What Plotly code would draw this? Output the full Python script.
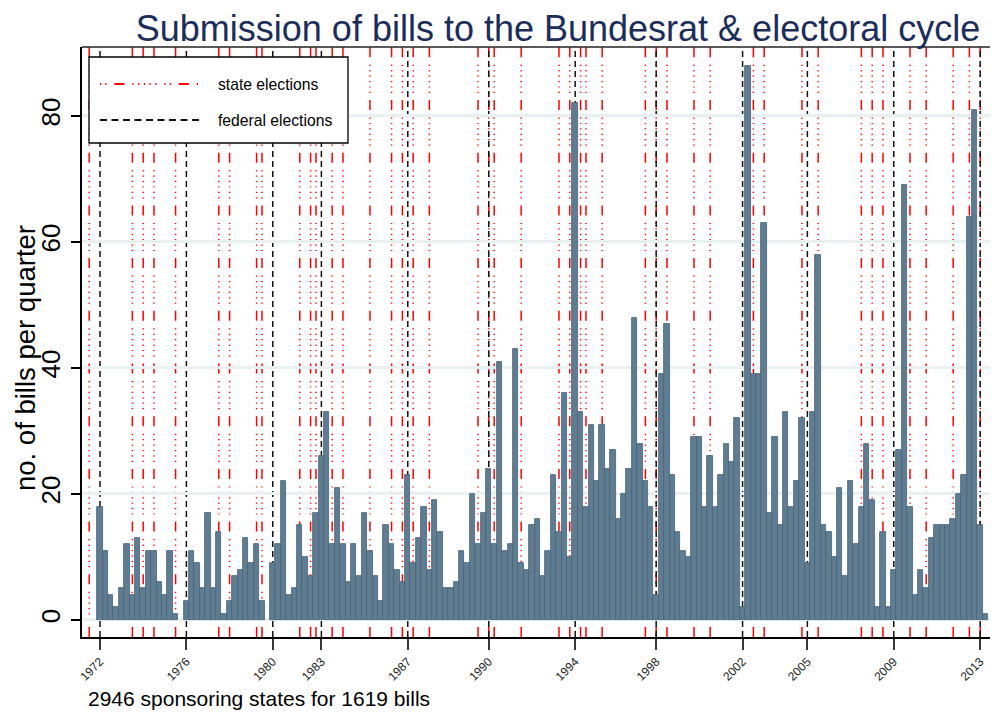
import plotly.graph_objects as go

# ---------------- data ----------------
# quarterly index (Stata tq: 0 = 1960q1); first bar 1972q4, last 2013q4
first_quarter = 51
sponsor_counts = [
    18, 11, 4, 2, 5, 12, 4, 13, 5, 11, 11, 6, 4, 11, 1, 0,          # 1972q4-1976q3
    3, 11, 9, 5, 17, 5, 14, 1, 3, 7, 8, 13, 9, 12, 3, 0,            # 1976q4-1980q3
    9, 12, 22, 4, 5, 15, 10, 7, 17,                                 # 1980q4-1982q4
    26, 33, 12, 21, 12, 6, 12, 7, 17, 11, 7, 3, 15, 12, 8, 6,       # 1983q1-1986q4
    23, 9, 13, 18, 8, 19, 14, 5, 5, 6, 11, 9, 20, 12, 17,           # 1987q1-1990q3
    24, 12, 41, 11, 12, 43, 9, 8, 15, 16, 7, 11, 23, 14, 36, 10,    # 1990q4-1994q3
    82, 33, 18, 31, 22, 31, 24, 27, 16, 20, 24, 48, 28, 22, 18,     # 1994q4-1998q2
    4, 39, 47, 23, 14, 11, 10, 29, 29, 18, 26, 18, 23, 28, 25, 32,  # 1998q3-2002q2
    2, 88, 39, 39, 63, 17, 29, 15, 33, 18, 22, 32,                  # 2002q3-2005q2
    9, 33, 58, 15, 14, 10, 21, 7, 22, 12, 18, 28, 19, 2, 14, 2,     # 2005q3-2009q2
    8, 27, 69, 18, 4, 8, 5, 13, 15, 15, 15, 16, 20, 23, 64, 81,     # 2009q3-2013q2
    15, 1,                                                          # 2013q3-2013q4
]
federal_election_q = [51, 67, 83, 92, 108, 123, 139, 154, 170, 182, 198, 214]
federal_election_labels = ["1972", "1976", "1980", "1983", "1987", "1990",
                           "1994", "1998", "2002", "2005", "2009", "2013"]
state_election_q = [49, 57, 59, 61, 65, 73, 75, 80, 81, 88, 90, 91, 94, 96, 101,
                    105, 107, 109, 112, 121, 123, 124, 129, 136, 138, 140, 141,
                    144, 152, 154, 156, 161, 164, 172, 174, 181, 184, 192, 194,
                    196, 201, 204, 209, 212, 214]
y_ticks = [0, 20, 40, 60, 80]

title_text = "Submission of bills to the Bundesrat &amp; electoral cycle"
y_title = "no. of bills per quarter"
note_text = "2946 sponsoring states for 1619 bills"
legend_labels = ["state elections", "federal elections"]

# ---------------- styling ----------------
FONT = "Liberation Sans, Arial, sans-serif"
OFF = 8                      # page body margin of the html page
W, H = 998 - OFF, 715 - OFF
ML, MR, MT, MB = 82 - OFF, 0, 47 - OFF, 78
PW, PH = W - ML - MR, H - MT - MB


def px_x(px):
    """screen x (px) -> paper fraction"""
    return (px - OFF - ML) / PW


def px_y(py):
    """screen y (px) -> paper fraction"""
    return (H - MB - (py - OFF)) / PH


STATE_DASH = "10px,7px,1.2px,4.2px,1.2px,4.2px,1.2px,4.2px,1.2px,4.2px,1.2px,4.2px,1.2px,7.5px"
FED_DASH = "6px,4px"

quarters = [first_quarter + i for i in range(len(sponsor_counts))]

fig = go.Figure()
fig.add_trace(go.Bar(
    x=quarters,
    y=[v if v > 0 else None for v in sponsor_counts],
    marker=dict(color="#5f7c90", line=dict(color="#46637a", width=0.8)),
    showlegend=False,
    hovertemplate="q%{x}: %{y}<extra></extra>",
))

shapes = []
for q in state_election_q:
    shapes.append(dict(type="line", xref="x", yref="paper", x0=q, x1=q, y0=0, y1=1,
                       layer="between", line=dict(color="#ff0000", width=1.5, dash=STATE_DASH)))
for q in federal_election_q:
    shapes.append(dict(type="line", xref="x", yref="paper", x0=q, x1=q, y0=0, y1=1,
                       layer="between", line=dict(color="#111111", width=1.5, dash=FED_DASH)))

# top frame line
shapes.append(dict(type="line", xref="paper", yref="paper", x0=0, x1=1, y0=1, y1=1,
                   layer="above", line=dict(color="#222222", width=1.3)))

# manual legend box
shapes.append(dict(type="rect", xref="paper", yref="paper",
                   x0=px_x(89), x1=px_x(348), y0=px_y(143), y1=px_y(57),
                   fillcolor="white", layer="above", line=dict(color="black", width=1.3)))
shapes.append(dict(type="line", xref="paper", yref="paper",
                   x0=px_x(100), x1=px_x(200), y0=px_y(84), y1=px_y(84), layer="above",
                   line=dict(color="#ff0000", width=2, dash="1.2px,4px,1.2px,8px,10px,8px,1.2px,4.5px,1.2px,4.5px,1.2px,4.5px,1.2px,4.5px,1.2px,8px")))
shapes.append(dict(type="line", xref="paper", yref="paper",
                   x0=px_x(100), x1=px_x(200), y0=px_y(120), y1=px_y(120), layer="above",
                   line=dict(color="#111111", width=2, dash="7px,4.5px")))

annotations = [
    dict(text=legend_labels[0], xref="paper", yref="paper", x=px_x(216), y=px_y(84),
         xanchor="left", yanchor="middle", showarrow=False,
         font=dict(family=FONT, size=15.7, color="black")),
    dict(text=legend_labels[1], xref="paper", yref="paper", x=px_x(216), y=px_y(120),
         xanchor="left", yanchor="middle", showarrow=False,
         font=dict(family=FONT, size=15.7, color="black")),
    dict(text=note_text, xref="paper", yref="paper", x=px_x(86), y=px_y(699),
         xanchor="left", yanchor="middle", showarrow=False,
         font=dict(family=FONT, size=21, color="black")),
    dict(text=y_title, xref="paper", yref="paper", x=px_x(25), y=px_y(358),
         xanchor="center", yanchor="middle", textangle=-90, showarrow=False,
         font=dict(family=FONT, size=27.5, color="black")),
]

fig.update_layout(
    width=W, height=H,
    margin=dict(l=ML, r=MR, t=MT, b=MB, pad=0),
    paper_bgcolor="white", plot_bgcolor="white",
    bargap=0,
    showlegend=False,
    title=dict(text=title_text, xref="container", yref="container",
               x=(558 - OFF) / W, xanchor="center", y=1 - (28.5 - OFF) / H, yanchor="middle",
               font=dict(family=FONT, size=36, color="#1c2d5a")),
    font=dict(family=FONT),
    shapes=shapes,
    annotations=annotations,
    xaxis=dict(
        range=[47.67, 217.3],
        tickmode="array", tickvals=federal_election_q, ticktext=federal_election_labels,
        tickangle=-45, tickfont=dict(family=FONT, size=12, color="#222222"),
        ticks="outside", ticklen=11, tickwidth=2, tickcolor="#3a3a3a",
        showgrid=False, zeroline=False,
        showline=True, linecolor="black", linewidth=2,
        automargin=False,
    ),
    yaxis=dict(
        range=[-2.70, 90.95],
        tickmode="array", tickvals=y_ticks,
        tickangle=-90, tickfont=dict(family=FONT, size=26, color="black"),
        ticks="outside", ticklen=9, tickwidth=1.5, tickcolor="black",
        ticklabelstandoff=1,
        showgrid=True, gridcolor="#e8f0f2", gridwidth=2.5,
        zeroline=False,
        showline=True, linecolor="black", linewidth=2,
        automargin=False,
    ),
)

fig.write_html("out.html")
